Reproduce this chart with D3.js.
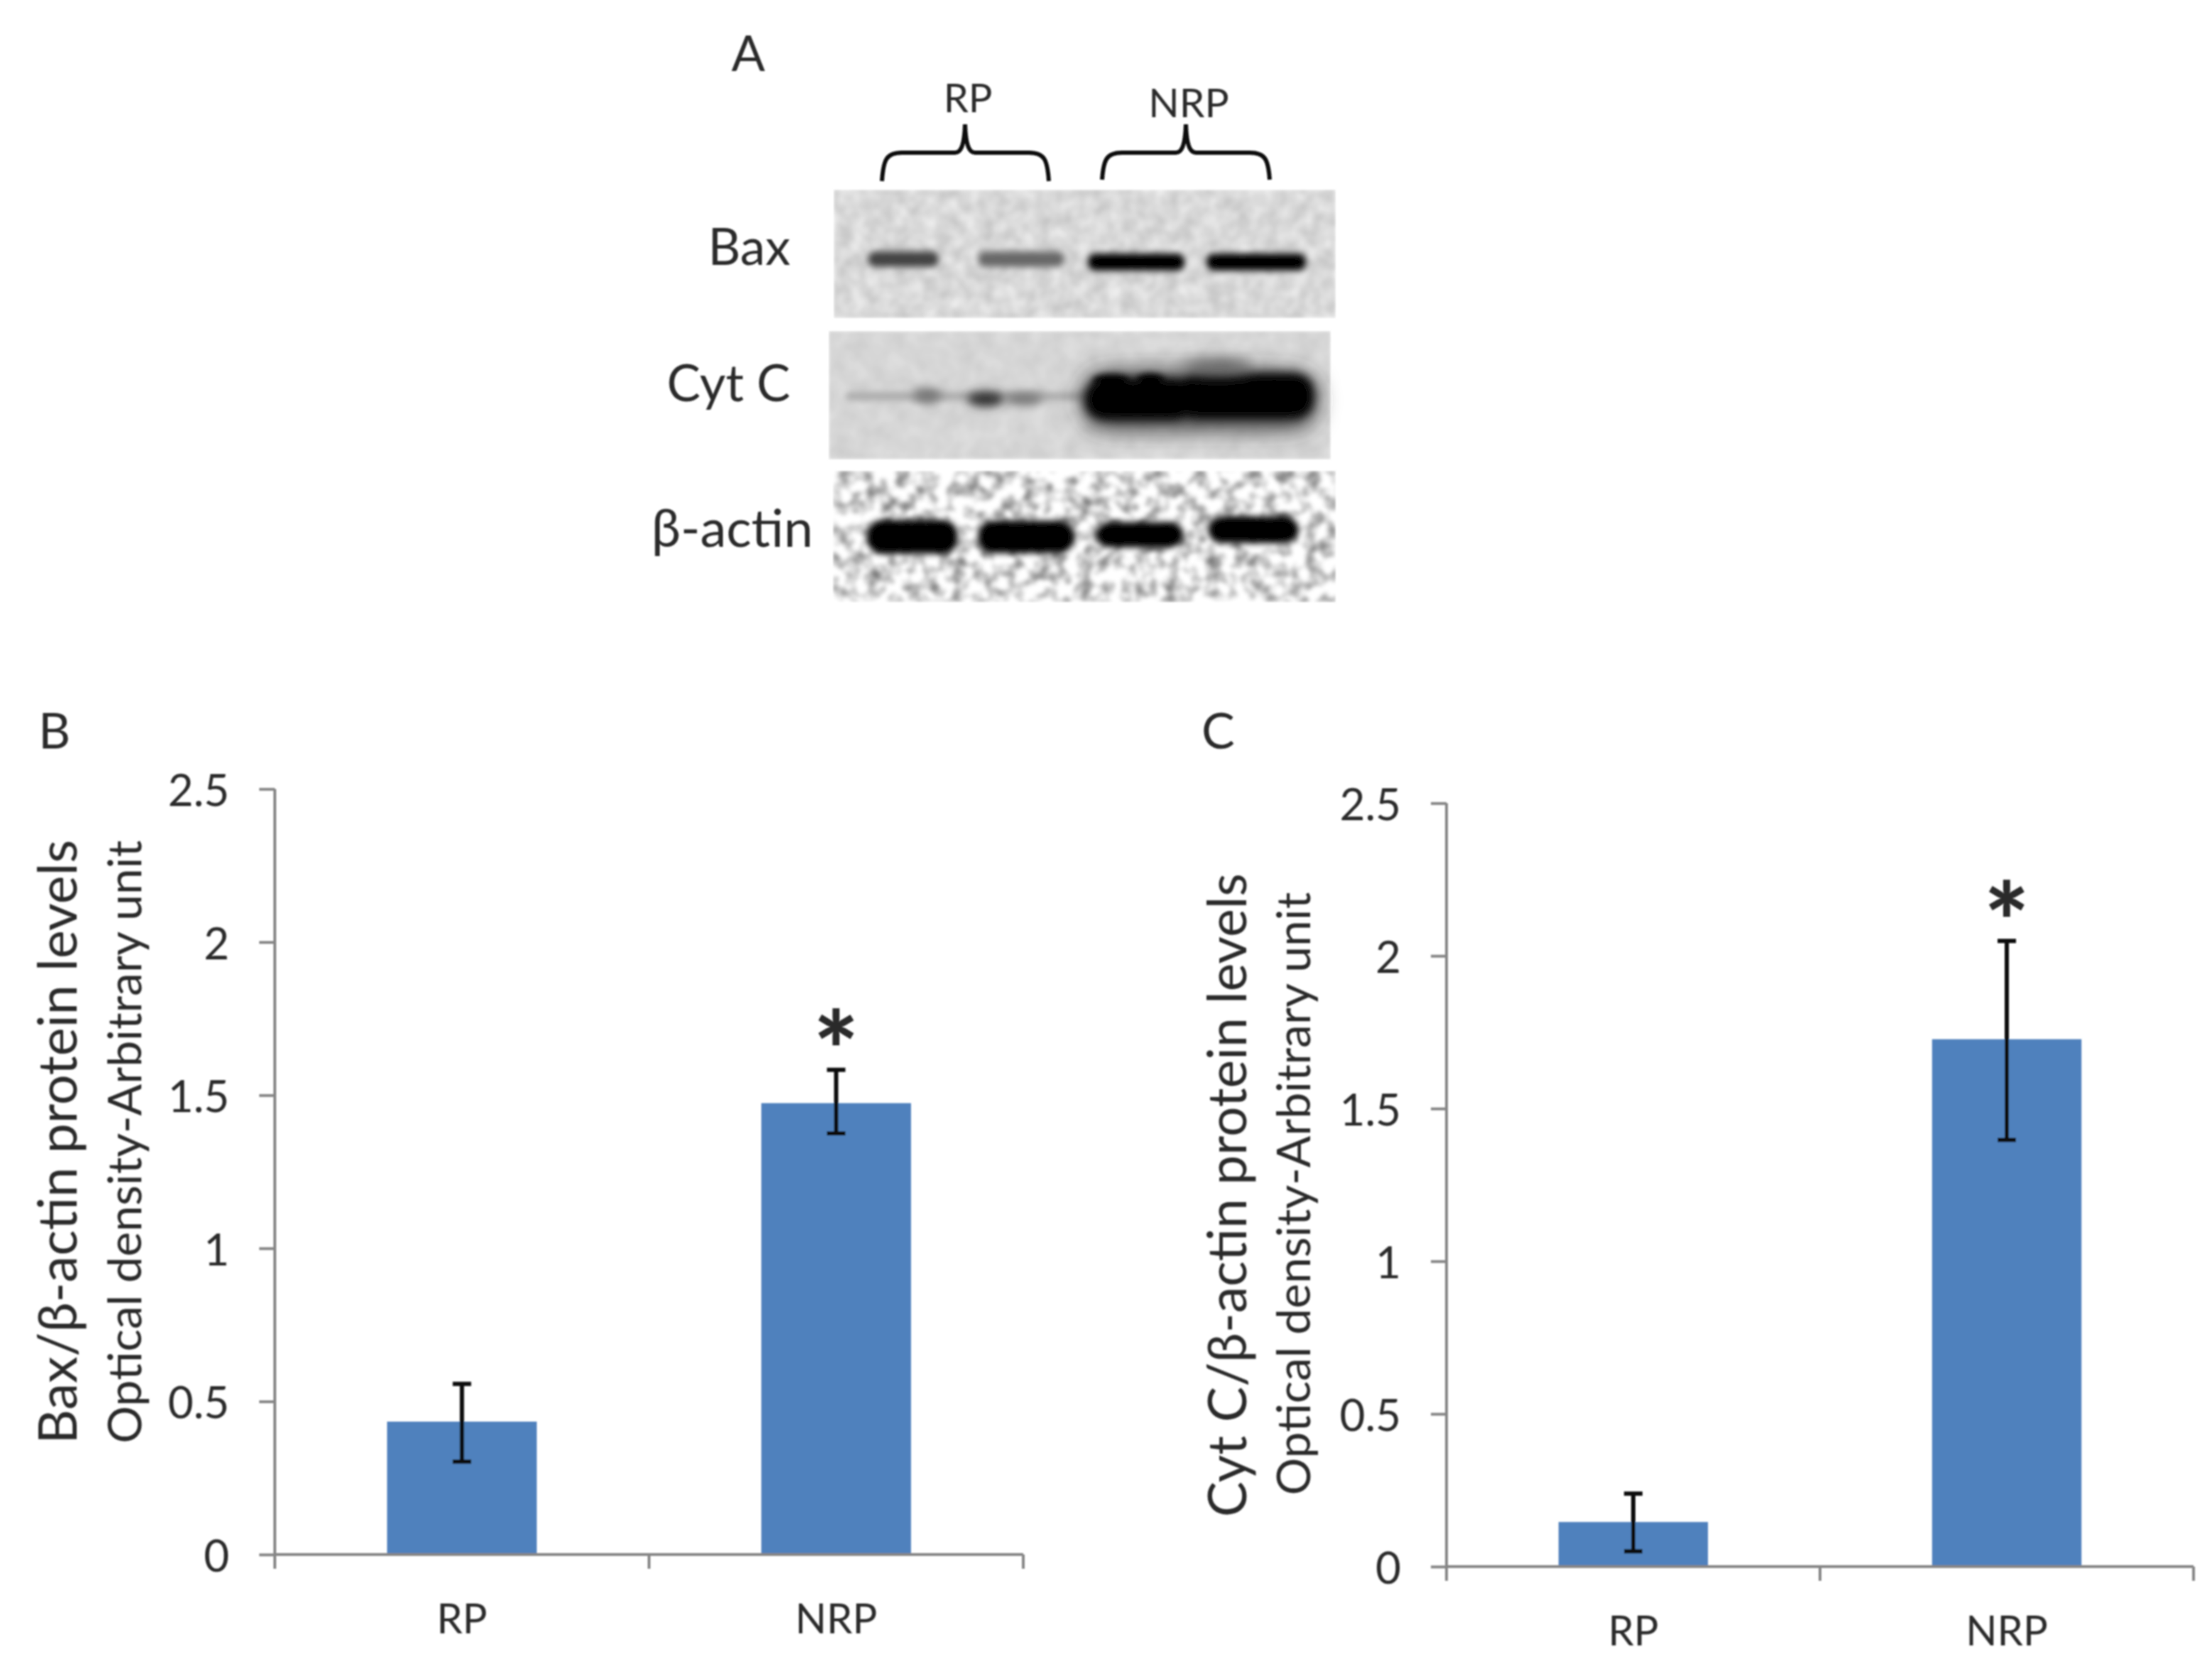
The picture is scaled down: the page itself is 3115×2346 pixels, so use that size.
<!DOCTYPE html>
<html><head><meta charset="utf-8">
<script src="https://cdn.jsdelivr.net/npm/d3@7/dist/d3.min.js"></script>
<style>html,body{margin:0;background:#fff}svg{display:block}text{font-family:Lato,"Open Sans",sans-serif;fill:#2b2b2b}</style>
</head><body>
<script>
// ---- data ----
const categories = ["RP", "NRP"];
const yTicks = [0, 0.5, 1, 1.5, 2, 2.5];
const baxValues = [0.434, 1.474];
const baxLow = [0.303, 1.375];
const baxHigh = [0.557, 1.583];
const cytValues = [0.146, 1.727];
const cytLow = [0.05, 1.397];
const cytHigh = [0.239, 2.049];
const blotLanes = ["RP 1", "RP 2", "NRP 1", "NRP 2"];
const blotRows = ["Bax", "Cyt C", "β-actin"];
const baxBands = [0.68, 0.5, 1, 1];
const cytBands = [0.3, 0.55, 1, 1];
const actinBands = [1, 1, 1, 1];

const W = 3115, H = 2346;
const svg = d3.select("body").append("svg").attr("width", W).attr("height", H);
const defs = svg.append("defs");
function noise(id, a, b, freq, seed) {
  const f = defs.append("filter").attr("id", id).attr("x", 0).attr("y", 0).attr("width", 1).attr("height", 1)
    .attr("color-interpolation-filters", "sRGB");
  f.append("feTurbulence").attr("type", "fractalNoise").attr("baseFrequency", freq).attr("numOctaves", 2).attr("seed", seed);
  f.append("feColorMatrix").attr("type", "matrix")
    .attr("values", `${a} 0 0 0 ${b} ${a} 0 0 0 ${b} ${a} 0 0 0 ${b} 0 0 0 0 1`);
  f.append("feGaussianBlur").attr("stdDeviation", 2);
}
noise("nBax", 0.22, 0.74, 0.05, 4);
noise("nCyt", 0.1, 0.79, 0.04, 9);
noise("nAct", 1.15, 0.3, 0.05, 5);
[["b3", 3], ["b5", 5], ["b7", 7], ["b10", 10], ["b16", 16]].forEach(([id, s]) => {
  defs.append("filter").attr("id", id).attr("x", "-40%").attr("y", "-100%").attr("width", "180%").attr("height", "300%")
    .append("feGaussianBlur").attr("stdDeviation", s);
});
defs.append("filter").attr("id", "soft").attr("filterUnits", "userSpaceOnUse").attr("x", 0).attr("y", 0).attr("width", W).attr("height", H)
  .append("feGaussianBlur").attr("stdDeviation", 1.1);

const root = svg.append("g").attr("filter", "url(#soft)");

// ---- chart panels ----
function panel(o) {
  const g = root.append("g");
  const x = d3.scaleBand().domain(categories).range([o.x0, o.x1]).paddingInner(0.6).paddingOuter(0.3);
  const y = d3.scaleLinear().domain([0, 2.5]).range([o.y0, o.y1]);
  const axisColor = "#868686";

  g.selectAll("rect.bar").data(categories).join("rect").attr("class", "bar")
    .attr("x", d => x(d)).attr("width", x.bandwidth())
    .attr("y", (d, i) => y(o.values[i])).attr("height", (d, i) => y(0) - y(o.values[i]))
    .attr("fill", "#4f81bd");

  const ya = g.append("g").attr("transform", `translate(${o.x0},0)`)
    .call(d3.axisLeft(y).tickValues(yTicks).tickSize(22).tickPadding(42).tickFormat(d3.format("~g")));
  ya.selectAll("line").attr("stroke", axisColor).attr("stroke-width", 4);
  ya.select(".domain").attr("stroke", axisColor).attr("stroke-width", 4).attr("d", `M0,${o.y0}V${o.y1}`);
  ya.selectAll("text").attr("font-size", 62).attr("dy", "0.38em").attr("fill", "#333").style("font-family", "Lato");

  const xa = g.append("g").attr("transform", `translate(0,${o.y0})`)
    .call(d3.axisBottom(x).tickSize(0).tickPadding(o.xPad));
  xa.select(".domain").attr("stroke", axisColor).attr("stroke-width", 4).attr("d", `M${o.x0},0H${o.x1}`);
  xa.selectAll("text").attr("font-size", 58).attr("fill", "#2b2b2b").style("font-family", "Lato");
  g.selectAll("line.xt").data([o.x0, (o.x0 + o.x1) / 2, o.x1]).join("line").attr("class", "xt")
    .attr("x1", d => d).attr("x2", d => d).attr("y1", o.y0).attr("y2", o.y0 + 20)
    .attr("stroke", axisColor).attr("stroke-width", 4);

  const cx = d => x(d) + x.bandwidth() / 2;
  const cap = 13;
  g.selectAll("path.err").data(categories).join("path").attr("class", "err")
    .attr("d", (d, i) => `M${cx(d) - cap},${y(o.high[i])}H${cx(d) + cap}M${cx(d)},${y(o.high[i])}V${y(o.low[i])}M${cx(d) - cap},${y(o.low[i])}H${cx(d) + cap}`)
    .attr("fill", "none").attr("stroke", "#111").attr("stroke-width", 6);

  g.append("text").text("*").attr("x", cx("NRP")).attr("y", y(o.high[1]) - o.starGap)
    .attr("text-anchor", "middle").attr("font-size", 150).attr("font-weight", 900).attr("fill", "#111").style("font-family", "Lato");

  g.append("text").text(o.title).attr("text-anchor", "middle").attr("font-size", o.titleSize)
    .attr("transform", `translate(${o.tx},${o.cy}) rotate(-90)`);
  g.append("text").text("Optical density-Arbitrary unit").attr("text-anchor", "middle").attr("font-size", o.subSize)
    .attr("transform", `translate(${o.sx},${o.scy}) rotate(-90)`);
  root.append("text").text(o.letter).attr("x", o.lx).attr("y", o.ly).attr("font-size", 70);
}
panel({letter: "B", lx: 54, ly: 1054, x0: 387, x1: 1441, y0: 2189, y1: 1111,
  values: baxValues, low: baxLow, high: baxHigh, xPad: 70, starGap: -28,
  title: "Bax/β-actin protein levels", titleSize: 75.5, tx: 108, cy: 1608,
  subSize: 66, sx: 199, scy: 1608});
panel({letter: "C", lx: 1692, ly: 1054, x0: 2037, x1: 3089, y0: 2206, y1: 1131,
  values: cytValues, low: cytLow, high: cytHigh, xPad: 70, starGap: -28,
  title: "Cyt C/β-actin protein levels", titleSize: 75, tx: 1755, cy: 1683,
  subSize: 66, sx: 1845, scy: 1681});

// ---- blots ----
const lane = d3.scaleBand().domain(blotLanes).range([1205, 1845]);
const laneC = d => lane(d) + lane.bandwidth() / 2;
const blots = root.append("g");
const rowBox = {
  "Bax": {x: 1174, y: 267, w: 707, h: 181, f: "nBax", lab: 373, end: 1113},
  "Cyt C": {x: 1167, y: 466, w: 707, h: 181, f: "nCyt", lab: 565, end: 1113},
  "β-actin": {x: 1173, y: 663, w: 708, h: 185, f: "nAct", lab: 770, end: 1145}
};
blotRows.forEach(r => {
  const b = rowBox[r];
  blots.append("rect").attr("x", b.x).attr("y", b.y).attr("width", b.w).attr("height", b.h)
    .attr("fill", "#ddd").attr("filter", `url(#${b.f})`);
  root.append("text").text(r).attr("x", b.end).attr("y", b.lab).attr("text-anchor", "end").attr("font-size", r === "β-actin" ? 74 : 71);
});
const grey = d3.scaleLinear().domain([0, 1]).range(["#c8c8c8", "#050505"]);

// Bax
const baxShift = [-13, -7, -5, 4];
const baxW = [100, 122, 136, 140];
blots.selectAll("rect.bax").data(blotLanes).join("rect").attr("class", "bax")
  .attr("x", (d, i) => laneC(d) + baxShift[i] - baxW[i] / 2).attr("width", (d, i) => baxW[i])
  .attr("y", (d, i) => i < 2 ? 354 : 357).attr("height", (d, i) => i < 2 ? 22 : 24).attr("rx", 10)
  .attr("fill", (d, i) => grey(baxBands[i])).attr("filter", "url(#b5)");

// Cyt C: weak RP bands, heavy merged NRP band
blots.append("rect").attr("x", 1190).attr("y", 552).attr("width", 340).attr("height", 12).attr("rx", 6)
  .attr("fill", "#aaa").attr("filter", "url(#b5)");
blots.selectAll("ellipse.cyt").data(blotLanes.slice(0, 2)).join("ellipse").attr("class", "cyt")
  .attr("cx", (d, i) => i ? 1388 : 1306).attr("cy", (d, i) => i ? 562 : 557).attr("rx", (d, i) => i ? 26 : 20).attr("ry", 11)
  .attr("fill", (d, i) => i ? "#333" : "#777").attr("filter", "url(#b7)");
blots.append("ellipse").attr("cx", 1442).attr("cy", 562).attr("rx", 26).attr("ry", 9)
  .attr("fill", "#777").attr("filter", "url(#b7)");
blots.append("rect").attr("x", 1524).attr("y", 524).attr("width", 330).attr("height", 80).attr("rx", 36)
  .attr("fill", "#333").attr("filter", "url(#b16)");
blots.selectAll("rect.cytN").data(blotLanes.slice(2)).join("rect").attr("class", "cytN")
  .attr("x", d => d === "NRP 1" ? 1528 : 1660).attr("width", d => d === "NRP 1" ? 150 : 190)
  .attr("y", (d, i) => i ? 526 : 534).attr("height", (d, i) => i ? 62 : 56).attr("rx", 26)
  .attr("fill", (d, i) => grey(cytBands[i + 2])).attr("filter", "url(#b7)");
blots.append("ellipse").attr("cx", 1565).attr("cy", 536).attr("rx", 26).attr("ry", 9).attr("fill", "#000").attr("filter", "url(#b5)");
blots.append("ellipse").attr("cx", 1620).attr("cy", 535).attr("rx", 20).attr("ry", 9).attr("fill", "#000").attr("filter", "url(#b5)");
blots.append("ellipse").attr("cx", 1715).attr("cy", 517).attr("rx", 48).attr("ry", 12)
  .attr("fill", "#666").attr("filter", "url(#b10)");

// β-actin
const actY = [732, 733, 735, 727];
const actH = [48, 46, 36, 38];
const actW = [128, 136, 124, 128];
blots.selectAll("rect.act").data(blotLanes).join("rect").attr("class", "act")
  .attr("x", (d, i) => laneC(d) - actW[i] / 2).attr("width", (d, i) => actW[i])
  .attr("y", (d, i) => actY[i]).attr("height", (d, i) => actH[i]).attr("rx", 22)
  .attr("fill", (d, i) => grey(actinBands[i])).attr("filter", "url(#b5)");

// braces and group labels
const brace = (l, r, c, top, mid, bot) =>
  `M${l},${bot}C${l + 2},${mid + 10} ${l + 6},${mid} ${l + 28},${mid}H${c - 14}C${c - 6},${mid} ${c - 1},${mid - 10} ${c},${top}` +
  `C${c + 1},${mid - 10} ${c + 6},${mid} ${c + 14},${mid}H${r - 28}C${r - 6},${mid} ${r - 2},${mid + 10} ${r},${bot}`;
[[1242, 1477, 1359, 175, 215, 255], [1552, 1788, 1670, 175, 215, 253]].forEach(a => {
  blots.append("path").attr("d", brace(...a)).attr("fill", "none").attr("stroke", "#111").attr("stroke-width", 6);
});
root.append("text").text("RP").attr("x", 1363).attr("y", 158).attr("text-anchor", "middle").attr("font-size", 56);
root.append("text").text("NRP").attr("x", 1674).attr("y", 165).attr("text-anchor", "middle").attr("font-size", 57);
root.append("text").text("A").attr("x", 1030).attr("y", 100).attr("font-size", 70);
</script>
</body></html>
